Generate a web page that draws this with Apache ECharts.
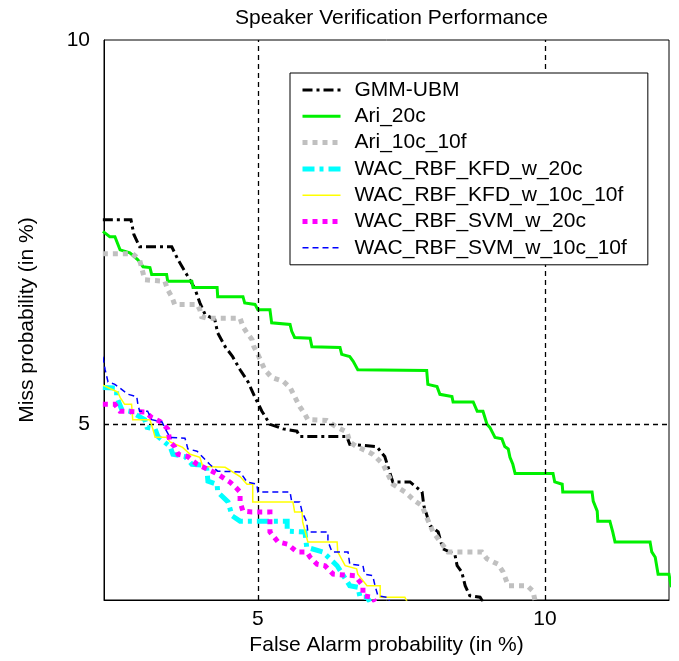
<!DOCTYPE html>
<html>
<head>
<meta charset="utf-8">
<script src="https://cdn.jsdelivr.net/npm/echarts@6/dist/echarts.min.js"></script>
<style>html,body{margin:0;padding:0;background:#fff}#c{width:679px;height:661px}</style>
</head>
<body>
<div id="c"></div>
<script>
// ---- data (False alarm %, Miss %) ----
var seriesNames = ['GMM-UBM','Ari_20c','Ari_10c_10f','WAC_RBF_KFD_w_20c','WAC_RBF_KFD_w_10c_10f','WAC_RBF_SVM_w_20c','WAC_RBF_SVM_w_10c_10f'];
var xTickValues = [5, 10];
var yTickValues = [5, 10];

var gmmUbm = [[2.30,7.66],[2.79,7.66],[2.84,7.47],[2.94,7.31],[3.50,7.31],[3.61,7.14],[3.76,6.95],[3.90,6.77],[3.99,6.58],[4.08,6.43],[4.25,6.36],[4.30,6.19],[4.43,6.01],[4.56,5.88],[4.69,5.71],[4.83,5.55],[4.95,5.35],[5.07,5.17],[5.21,5.00],[5.44,4.94],[5.68,4.91],[5.73,4.84],[6.55,4.84],[6.60,4.74],[7.07,4.71],[7.21,4.58],[7.35,4.25],[7.65,4.25],[7.86,4.12],[7.89,3.94],[8.00,3.68],[8.14,3.60],[8.22,3.38],[8.43,3.31],[8.47,3.16],[8.55,3.08],[8.61,2.90],[8.69,2.77],[8.87,2.75],[8.92,2.69]];
var ari20c = [[2.30,7.51],[2.42,7.44],[2.51,7.44],[2.60,7.27],[2.77,7.23],[2.91,7.14],[3.00,7.05],[3.12,7.04],[3.15,6.95],[3.41,6.95],[3.43,6.86],[3.85,6.86],[3.87,6.78],[4.29,6.78],[4.30,6.66],[4.74,6.66],[4.77,6.58],[4.95,6.56],[5.00,6.49],[5.21,6.49],[5.24,6.32],[5.56,6.30],[5.59,6.21],[5.64,6.13],[5.91,6.12],[5.94,6.01],[6.43,6.00],[6.46,5.91],[6.60,5.88],[6.66,5.82],[6.74,5.71],[7.94,5.70],[7.96,5.52],[8.12,5.49],[8.17,5.39],[8.38,5.36],[8.40,5.29],[8.75,5.29],[8.82,5.17],[8.92,5.17],[8.99,5.00],[9.04,4.96],[9.13,4.83],[9.25,4.81],[9.30,4.71],[9.36,4.68],[9.39,4.57],[9.44,4.48],[9.48,4.36],[10.14,4.36],[10.17,4.25],[10.30,4.22],[10.31,4.12],[10.82,4.12],[10.84,4.00],[10.91,3.87],[10.92,3.74],[11.13,3.74],[11.18,3.60],[11.22,3.47],[11.83,3.47],[11.86,3.34],[11.92,3.27],[11.97,3.05],[12.16,3.05],[12.20,2.88]];
var ari10c10f = [[2.30,7.22],[2.82,7.22],[2.94,7.14],[3.03,6.88],[3.38,6.86],[3.43,6.75],[3.50,6.66],[3.55,6.56],[3.94,6.56],[3.99,6.49],[4.02,6.40],[4.11,6.38],[4.69,6.38],[4.74,6.27],[4.81,6.19],[4.90,6.10],[4.93,6.01],[5.00,5.91],[5.12,5.71],[5.24,5.61],[5.44,5.56],[5.56,5.48],[5.64,5.36],[5.73,5.23],[5.82,5.13],[5.87,5.06],[6.20,5.05],[6.38,4.96],[6.55,4.90],[6.60,4.77],[6.72,4.71],[6.90,4.65],[7.00,4.61],[7.18,4.48],[7.35,4.22],[7.56,4.12],[7.74,4.00],[7.86,3.94],[7.94,3.79],[8.05,3.60],[8.21,3.44],[8.31,3.34],[8.90,3.34],[8.99,3.25],[9.18,3.18],[9.27,3.08],[9.36,2.90],[9.69,2.90],[9.79,2.83],[9.83,2.70]];
var kfd20c = [[2.30,5.48],[2.54,5.47],[2.54,5.36],[2.63,5.19],[2.77,5.17],[3.03,5.06],[3.07,4.96],[3.21,4.94],[3.26,4.84],[3.47,4.71],[3.52,4.61],[3.73,4.58],[3.85,4.48],[4.04,4.47],[4.11,4.42],[4.13,4.26],[4.29,4.22],[4.30,4.12],[4.48,3.99],[4.55,3.81],[4.69,3.74],[5.51,3.74],[5.51,3.61],[5.82,3.60],[5.85,3.40],[6.13,3.34],[6.38,3.16],[6.60,2.90],[6.74,2.88],[6.78,2.75],[6.90,2.75],[6.95,2.69]];
var kfd10c10f = [[2.30,5.51],[2.47,5.45],[2.56,5.42],[2.60,5.35],[2.68,5.26],[2.80,5.26],[2.82,5.06],[3.12,5.06],[3.17,4.94],[3.21,4.83],[3.41,4.83],[3.47,4.77],[3.69,4.70],[3.82,4.61],[3.99,4.57],[4.04,4.45],[4.43,4.44],[4.69,4.32],[4.81,4.22],[4.91,4.22],[4.91,3.99],[5.61,3.99],[5.64,3.86],[5.77,3.86],[5.78,3.73],[5.87,3.47],[6.38,3.47],[6.39,3.34],[6.52,3.16],[6.72,3.12],[6.74,3.05],[6.90,2.90],[7.13,2.90],[7.13,2.75],[7.56,2.75],[7.60,2.69]];
var svm20c = [[2.30,5.26],[2.51,5.26],[2.60,5.17],[3.03,5.16],[3.15,5.09],[3.29,5.04],[3.43,4.94],[3.47,4.77],[3.55,4.71],[3.61,4.61],[3.78,4.58],[3.94,4.48],[4.20,4.39],[4.30,4.35],[4.51,4.25],[4.60,4.19],[4.69,4.12],[4.69,3.99],[4.74,3.87],[4.90,3.86],[5.21,3.86],[5.21,3.60],[5.35,3.47],[5.52,3.44],[5.68,3.34],[5.85,3.34],[5.91,3.27],[6.03,3.18],[6.17,3.16],[6.31,3.05],[6.69,3.03],[6.83,2.90],[6.83,2.77],[6.99,2.75],[7.04,2.69]];
var svm10c10f = [[2.30,5.88],[2.34,5.71],[2.39,5.55],[2.51,5.52],[2.74,5.39],[2.89,5.36],[2.91,5.26],[2.94,5.17],[3.08,5.17],[3.15,5.06],[3.33,5.03],[3.41,4.91],[3.47,4.83],[3.73,4.82],[3.76,4.74],[3.78,4.68],[3.94,4.65],[4.16,4.48],[4.30,4.39],[4.69,4.38],[4.81,4.25],[4.98,4.22],[5.00,4.12],[5.56,4.12],[5.59,3.99],[5.73,3.99],[5.77,3.86],[5.85,3.73],[5.87,3.60],[6.22,3.60],[6.22,3.48],[6.29,3.34],[6.57,3.34],[6.60,3.18],[6.83,3.16],[6.86,3.05],[7.00,3.03],[7.04,2.90],[7.09,2.77],[7.25,2.75],[7.30,2.69]];

// ---- styling ----
var FONT = '"Liberation Sans", Arial, sans-serif';
var styles = [
  {color:'#000000', width:3,   type:[10,4,3,4]},
  {color:'#00f000', width:3,   type:'solid'},
  {color:'#c0c0c0', width:5,   type:[5,5]},
  {color:'#00ffff', width:5,   type:[12,5,4,5]},
  {color:'#ffff00', width:1.5, type:'solid'},
  {color:'#ff00ff', width:5,   type:[5,5]},
  {color:'#0000ff', width:1.5, type:[6,4]}
];
var datasets = [gmmUbm, ari20c, ari10c10f, kfd20c, kfd10c10f, svm20c, svm10c10f];

var series = [{
  name: '__grid', type: 'line', data: [], z: 1, silent: true,
  markLine: {
    silent: true, symbol: ['none','none'], animation: false,
    label: {show: false},
    lineStyle: {color: '#000', width: 1.3, type: [5,4]},
    emphasis: {disabled: true},
    data: [{xAxis: xTickValues[0]}, {xAxis: xTickValues[1]}, {yAxis: yTickValues[0]}]
  }
}];
seriesNames.forEach(function(n, i){
  series.push({
    name: n, type: 'line', data: datasets[i], symbol: 'none', showSymbol: false,
    z: 2 + i, animation: false, clip: true,
    lineStyle: {color: styles[i].color, width: styles[i].width, type: styles[i].type, cap: 'butt', join: 'miter'},
    itemStyle: {color: styles[i].color},
    emphasis: {disabled: true}
  });
});
var legendData = seriesNames.map(function(n, i){
  return {name: n, lineStyle: {color: styles[i].color, width: styles[i].width, type: styles[i].type, cap: 'butt'}};
});

var chart = echarts.init(document.getElementById('c'), null, {renderer: 'canvas'});
chart.setOption({
  animation: false,
  backgroundColor: '#fff',
  title: {
    text: 'Speaker Verification Performance',
    left: 386.5, textAlign: 'center', top: 3,
    textStyle: {fontFamily: FONT, fontSize: 21, fontWeight: 'normal', color: '#000'}
  },
  grid: {left: 104, right: 10, top: 40, bottom: 60, show: true, borderColor: '#000', borderWidth: 1, backgroundColor: '#fff'},
  xAxis: {
    type: 'value', min: 2.32, max: 12.16,
    name: 'False Alarm probability (in %)', nameLocation: 'middle', nameGap: 35,
    nameTextStyle: {fontFamily: FONT, fontSize: 21, color: '#000'},
    axisLine: {show: true, lineStyle: {color: '#000', width: 1}},
    axisTick: {show: false},
    splitLine: {show: false},
    axisLabel: {customValues: xTickValues, fontFamily: FONT, fontSize: 21, color: '#000', margin: 9}
  },
  yAxis: {
    type: 'value', min: 2.714, max: 10,
    name: 'Miss probability (in %)', nameLocation: 'middle', nameGap: 66,
    nameTextStyle: {fontFamily: FONT, fontSize: 21, color: '#000'},
    axisLine: {show: true, lineStyle: {color: '#000', width: 1}},
    axisTick: {show: false},
    splitLine: {show: false},
    axisLabel: {customValues: yTickValues, fontFamily: FONT, fontSize: 21, color: '#000', margin: 14}
  },
  legend: {
    data: legendData, orient: 'vertical', left: 290, top: 73, z: 20,
    padding: [5, 21, 5, 10], itemGap: 2.3, itemWidth: 38, itemHeight: 14,
    borderColor: '#000', borderWidth: 1, backgroundColor: '#fff',
    selectedMode: false,
    itemStyle: {opacity: 0, borderWidth: 0},
    textStyle: {fontFamily: FONT, fontSize: 21, color: '#000', lineHeight: 24, padding: [0,0,0,9]}
  },
  series: series
});
</script>
</body>
</html>
